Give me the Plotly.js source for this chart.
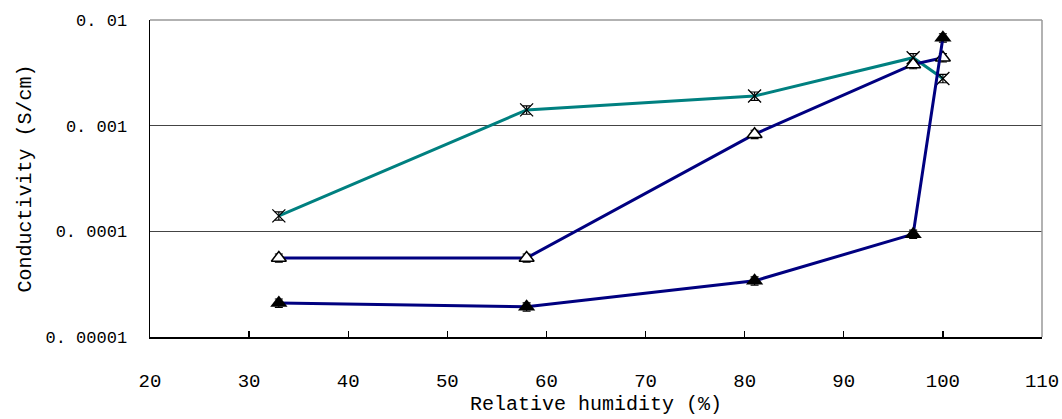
<!DOCTYPE html>
<html>
<head>
<meta charset="utf-8">
<script src="https://cdn.plot.ly/plotly-3.0.1.min.js"></script>
<style>html,body{margin:0;padding:0;background:#fff;}#chart{width:1062px;height:419px;}</style>
</head>
<body>
<div id="chart"></div>
<script>
// Data
const humidity = [33, 58, 81, 97, 100];
const seriesCross = [1.4e-4, 1.41e-3, 1.91e-3, 4.4e-3, 2.8e-3];
const seriesOpenTri = [5.6e-5, 5.6e-5, 8.3e-4, 3.8e-3, 4.4e-3];
const seriesFilledTri = [2.1e-5, 1.93e-5, 3.4e-5, 9.4e-5, 6.8e-3];
const yTickVals = [1e-5, 1e-4, 1e-3, 1e-2];
const yTickText = ["0. 00001", "0. 0001", "0. 001", "0. 01"];
const xTickVals = [20, 30, 40, 50, 60, 70, 80, 90, 100, 110];

const FONT = "Liberation Mono, DejaVu Sans Mono, monospace";
const err = {type: 'percent', value: 9, color: '#000', thickness: 1.2, width: 4, visible: true};

const traces = [
  {x: humidity, y: seriesCross, mode: 'lines+markers', name: 'a',
   line: {color: '#008080', width: 3},
   marker: {symbol: 'x-thin-open', size: 13, color: '#000', line: {color: '#000', width: 1.3}},
   error_y: err},
  {x: humidity, y: seriesOpenTri, mode: 'lines+markers', name: 'b',
   line: {color: '#000080', width: 3},
   marker: {symbol: 'triangle-up', size: 13, color: '#fff', line: {color: '#000', width: 1.5}},
   error_y: err},
  {x: humidity, y: seriesFilledTri, mode: 'lines+markers', name: 'c',
   line: {color: '#000080', width: 3},
   marker: {symbol: 'triangle-up', size: 15, color: '#000', line: {color: '#000', width: 0}},
   error_y: err}
];

const layout = {
  width: 1062, height: 419,
  margin: {l: 150, r: 20, t: 20, b: 82},
  paper_bgcolor: '#fff', plot_bgcolor: '#fff',
  showlegend: false,
  font: {family: FONT, size: 18, color: '#000'},
  xaxis: {
    range: [20, 110], tickvals: xTickVals, ticktext: xTickVals.map(String),
    ticks: 'inside', ticklen: 6, tickcolor: '#000', tickwidth: 1.3,
    showgrid: false, zeroline: false,
    showline: true, linecolor: '#000', linewidth: 1.5,
    ticklabelstandoff: 26,
    tickfont: {family: FONT, size: 19, color: '#000'},
    title: {text: 'Relative humidity (%)', font: {family: FONT, size: 20, color: '#000'}, standoff: 2}
  },
  yaxis: {
    type: 'log', range: [-5, -2],
    tickvals: yTickVals, ticktext: yTickText,
    ticks: '', showgrid: true, gridcolor: '#444', gridwidth: 1.6,
    zeroline: false, showline: true, linecolor: '#000', linewidth: 1.5,
    ticklabelstandoff: 18,
    tickfont: {family: FONT, size: 17, color: '#000'},
    title: {text: 'Conductivity (S/cm)', font: {family: FONT, size: 20, color: '#000'}, standoff: 8}
  },
  shapes: [
    {type: 'line', xref: 'paper', yref: 'paper', x0: 0, x1: 1, y0: 1, y1: 1, line: {color: '#999', width: 1.5}},
    {type: 'line', xref: 'paper', yref: 'paper', x0: 1, x1: 1, y0: 0, y1: 1, line: {color: '#999', width: 1.5}}
  ]
};

Plotly.newPlot('chart', traces, layout, {displayModeBar: false, staticPlot: true});
</script>
</body>
</html>
